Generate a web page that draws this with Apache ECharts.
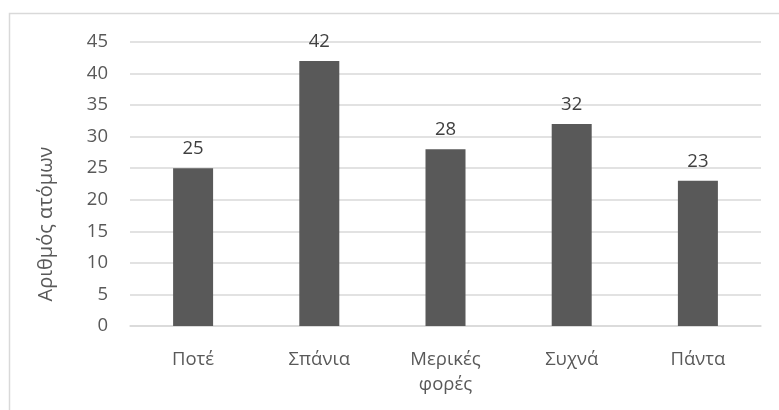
<!DOCTYPE html>
<html>
<head>
<meta charset="utf-8">
<script src="https://cdn.jsdelivr.net/npm/echarts@6/dist/echarts.min.js"></script>
<style>html,body{margin:0;padding:0;background:#fff}#c{width:779px;height:410px}</style>
</head>
<body>
<div id="c"></div>
<script>
var categories = ['Ποτέ', 'Σπάνια', 'Μερικές\nφορές', 'Συχνά', 'Πάντα'];
var values = [25, 42, 28, 32, 23];
var yAxisName = 'Αριθμός ατόμων';

var FONT = '"Open Sans", "Noto Sans", sans-serif';
var chart = echarts.init(document.getElementById('c'), null, {renderer: 'canvas'});
chart.setOption({
  animation: false,
  backgroundColor: '#ffffff',
  graphic: [{
    type: 'rect',
    shape: {x: 9.5, y: 13.5, width: 820, height: 500},
    style: {fill: 'none', stroke: '#d9d9d9', lineWidth: 1.5},
    silent: true
  }],
  grid: {left: 130, right: 18, top: 42, bottom: 84},
  xAxis: {
    type: 'category',
    data: categories,
    axisTick: {show: false},
    axisLine: {lineStyle: {color: '#d9d9d9', width: 1.5}},
    axisLabel: {color: '#595959', fontSize: 18.5, fontFamily: FONT, margin: 21, lineHeight: 25, interval: 0}
  },
  yAxis: {
    type: 'value',
    min: 0, max: 45, interval: 5,
    name: yAxisName,
    nameLocation: 'middle',
    nameGap: 74,
    nameTextStyle: {color: '#595959', fontSize: 20, fontFamily: FONT, padding: [0, 80, 0, 0]},
    axisLine: {show: false},
    axisTick: {show: false},
    splitLine: {lineStyle: {color: '#d9d9d9', width: 1.5}},
    axisLabel: {color: '#595959', fontSize: 18.5, fontFamily: FONT, margin: 22}
  },
  series: [{
    type: 'bar',
    data: values,
    barWidth: 40,
    itemStyle: {color: '#595959'},
    label: {show: true, position: 'top', distance: 10, color: '#404040', fontSize: 18.5, fontFamily: FONT}
  }]
});
</script>
</body>
</html>
